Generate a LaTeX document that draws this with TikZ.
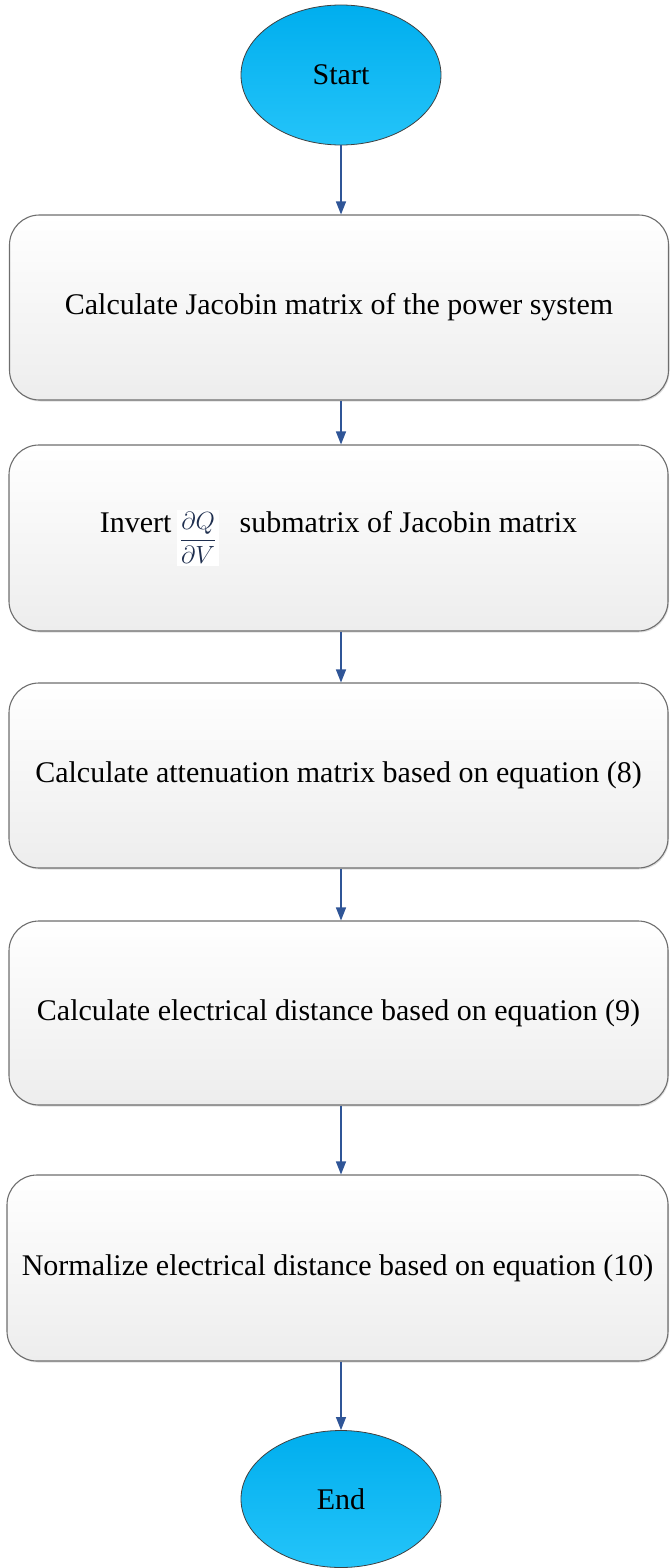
\documentclass[tikz,border=0pt]{standalone}
\usepackage{fontspec}
\setmainfont{Liberation Serif}
\usetikzlibrary{shapes.geometric,arrows.meta,shadows}
\definecolor{boxline}{HTML}{6E6E6E}
\definecolor{boxbot}{HTML}{EDEDED}
\definecolor{elltop}{HTML}{00AEEE}
\definecolor{ellbot}{HTML}{24C4F9}
\definecolor{arrowblue}{HTML}{2F5597}
\definecolor{fracink}{HTML}{1F2F4F}
\tikzset{
  stepbox/.style={rectangle, rounded corners=30pt, draw=boxline, line width=1.1pt,
    top color=white, bottom color=boxbot, minimum width=659pt, minimum height=185pt,
    inner sep=0pt, font=\fontsize{30}{34}\selectfont,
    drop shadow={opacity=0.25, shadow xshift=1pt, shadow yshift=-1.5pt}},
  termnode/.style={ellipse, draw=black!75, line width=0.8pt, top color=elltop, bottom color=ellbot,
    minimum width=200pt, minimum height=140pt, inner sep=0pt, font=\fontsize{30}{34}\selectfont},
  flowarrow/.style={draw=arrowblue, line width=1.4pt, -{Triangle[length=13pt,width=10pt]}}
}
\begin{document}
\begin{tikzpicture}[x=1pt,y=-1pt]
\useasboundingbox (0,0) rectangle (669,1568);
\node[termnode] (start) at (341,75) {Start};
\node[stepbox] (b1) at (339,307.5) {Calculate Jacobin matrix of the power system};
\node[stepbox, minimum height=186pt] (b2) at (338.5,538) {Invert\hspace{0.2em}\raisebox{-0.37\height}{\setlength{\fboxsep}{2.5pt}\colorbox{white}{\color{fracink}\fontsize{31}{34}\selectfont$\displaystyle\frac{\partial Q}{\partial V}$}}\hspace{0.45em} submatrix of Jacobin matrix};
\node[stepbox] (b3) at (338.5,775.5) {Calculate attenuation matrix based on equation (8)};
\node[stepbox, minimum height=184pt] (b4) at (338.5,1013) {Calculate electrical distance based on equation (9)};
\node[stepbox, minimum height=186pt, minimum width=661pt] (b5) at (337.5,1268) {Normalize electrical distance based on equation (10)};
\node[termnode, minimum height=137pt] (end) at (341,1499) {End};
\draw[flowarrow] (start.south) -- (start.south |- b1.north);
\draw[flowarrow] (b1.south -| start.south) -- (start.south |- b2.north);
\draw[flowarrow] (b2.south -| start.south) -- (start.south |- b3.north);
\draw[flowarrow] (b3.south -| start.south) -- (start.south |- b4.north);
\draw[flowarrow] (b4.south -| start.south) -- (start.south |- b5.north);
\draw[flowarrow] (b5.south -| start.south) -- (end.north);
\end{tikzpicture}
\end{document}
